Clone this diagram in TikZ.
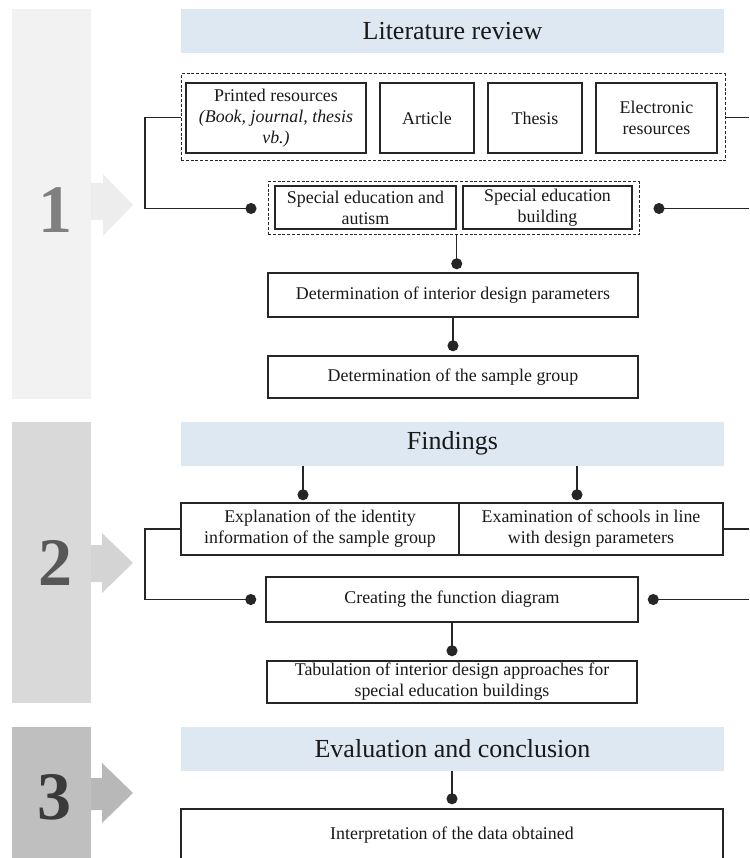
\documentclass[tikz,border=0pt]{standalone}
\usepackage{fontspec}
\setmainfont{Liberation Serif}
\usetikzlibrary{arrows.meta,calc}
\definecolor{hdrfill}{HTML}{DDE8F3}
\definecolor{linec}{HTML}{262626}
\definecolor{barA}{HTML}{F2F2F2}
\definecolor{barB}{HTML}{D9D9D9}
\definecolor{barC}{HTML}{BFBFBF}
\definecolor{arrA}{HTML}{EDEDED}
\definecolor{arrB}{HTML}{D4D4D4}
\definecolor{arrC}{HTML}{B8B8B8}
\definecolor{numA}{HTML}{808080}
\definecolor{numB}{HTML}{575757}
\definecolor{numC}{HTML}{3A3A3A}
\newcommand\bodyfnt{\fontsize{17.9}{21}\selectfont}
\newcommand\hdrfnt{\fontsize{26}{30}\selectfont}
\newcommand\numfnt{\fontsize{68}{72}\selectfont\bfseries}
\begin{document}
\begin{tikzpicture}[x=1pt,y=-1pt,
  box/.style={draw=linec, line width=1.5pt, inner sep=0pt, align=center, font=\bodyfnt, text=black!90},
  hdrbox/.style={fill=hdrfill, inner sep=0pt, minimum width=543pt, minimum height=44pt, font=\hdrfnt, text=black!90},
  dashbox/.style={draw=linec, line width=1pt, dash pattern=on 3pt off 1.8pt, inner sep=0pt},
  conn/.style={draw=linec, line width=1.4pt},
  dot/.style={-{Circle[length=11pt,width=11pt]}},
  numlbl/.style={font=\numfnt, inner sep=0pt}
]
\useasboundingbox (0,0) rectangle (749,858);
\clip (0,0) rectangle (749,858);

% side bars and arrows
\fill[barA] (12,9) rectangle (91,399);
\fill[barB] (12,422) rectangle (91,703);
\fill[barC] (12,727) rectangle (91,858);
\fill[arrA] (91,183) -- (103,183) -- (103,174) -- (133,205) -- (103,236) -- (103,220) -- (91,220) -- cycle;
\fill[arrB] (91,545) -- (102,545) -- (102,533) -- (133,563) -- (102,593) -- (102,582) -- (91,582) -- cycle;
\fill[arrC] (91,778) -- (102,778) -- (102,763) -- (133,793) -- (102,823) -- (102,810) -- (91,810) -- cycle;
\node[numlbl, text=numA] (n1) at (55,210) {1};
\node[numlbl, text=numB] (n2) at (55,563) {2};
\node[numlbl, text=numC] (n3) at (54,797) {3};

% section 1
\node[hdrbox] (h1) at (452.5,31) {Literature review};
\node[dashbox, minimum width=544pt, minimum height=87pt] (d1) at (453,117.5) {};
\node[box, minimum width=180pt, minimum height=70pt] (printed) at (276,118) {Printed resources\\\textit{(Book, journal, thesis}\\\textit{vb.)}};
\node[box, minimum width=94pt, minimum height=70pt] (article) at (427,118) {Article};
\node[box, minimum width=94pt, minimum height=70pt] (thesis) at (535,118) {Thesis};
\node[box, minimum width=121pt, minimum height=70pt] (elec) at (656.5,118) {Electronic\\resources};
\node[dashbox, minimum width=371pt, minimum height=53pt] (d2) at (453.5,208.5) {};
\node[box, minimum width=181pt, minimum height=43pt] (sea) at (365.5,207.5) {Special education and\\autism};
\node[box, minimum width=169pt, minimum height=43pt] (seb) at (547.5,207.5) {Special education\\building};
\node[box, minimum width=370pt, minimum height=44pt] (dip) at (453,295) {Determination of interior design parameters};
\node[box, minimum width=370pt, minimum height=42pt] (dsg) at (453,377) {Determination of the sample group};

\coordinate (r1) at (749,117.5);
\coordinate (r2) at (749,208.5);
\draw[conn, dot] (d1.west) -- (145,117.5) |- ($(d2.west)+(-11,0)$);
\draw[conn] (d1.east) -- (r1);
\draw[conn, dot] (r2) -- ($(d2.east)+(14,0)$);
\draw[conn, dot, shorten >=3pt] (d2.south -| sea.east) -- (dip.north -| sea.east);
\draw[conn, dot, shorten >=4pt] (dip.south) -- (dsg.north);

% section 2
\node[hdrbox] (h2) at (452.5,443.5) {Findings};
\node[box, minimum width=278pt, minimum height=52pt] (expl) at (320,529) {Explanation of the identity\\information of the sample group};
\node[box, minimum width=264pt, minimum height=52pt] (exam) at (591,529) {Examination of schools in line\\with design parameters};
\node[box, minimum width=372pt, minimum height=45pt] (cfd) at (452,599.5) {Creating the function diagram};
\node[box, minimum width=370pt, minimum height=42pt] (tab) at (452,682) {Tabulation of interior design approaches for\\special education buildings};
\coordinate (xa) at (303,0);
\coordinate (xb) at (577,0);
\coordinate (r3) at (749,529);
\coordinate (r4) at (749,599.5);
\draw[conn, dot, shorten >=2pt] (h2.south -| xa) -- (expl.north -| xa);
\draw[conn, dot, shorten >=2pt] (h2.south -| xb) -- (exam.north -| xb);
\draw[conn, dot] (expl.west) -- (145,529) |- ($(cfd.west)+(-9,0)$);
\draw[conn] (exam.east) -- (r3);
\draw[conn, dot] (r4) -- ($(cfd.east)+(9,0)$);
\draw[conn, dot, shorten >=4pt] (cfd.south) -- (tab.north);

% section 3
\node[hdrbox] (h3) at (452.5,748.5) {Evaluation and conclusion};
\node[box, minimum width=542pt, minimum height=52pt] (interp) at (452,835) {Interpretation of the data obtained};
\draw[conn, dot, shorten >=4pt] (h3.south -| interp) -- (interp.north);
\end{tikzpicture}
\end{document}
